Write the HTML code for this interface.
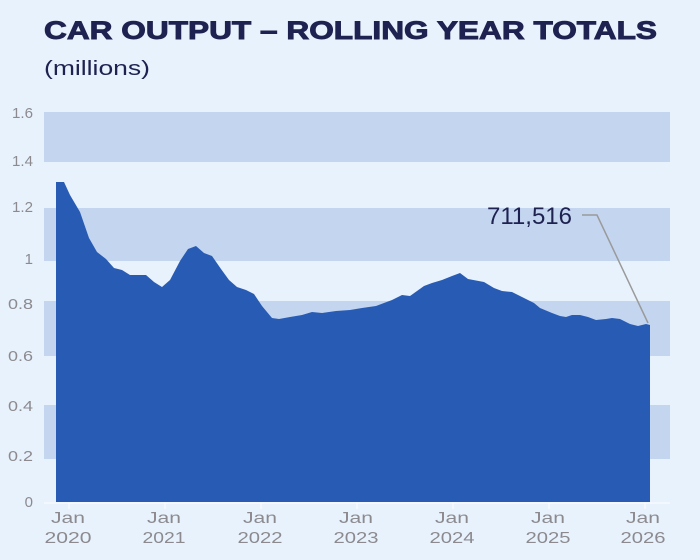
<!DOCTYPE html>
<html><head><meta charset="utf-8"><style>
html,body{margin:0;padding:0;background:#e8f2fc;}
svg{display:block;font-family:"Liberation Sans",sans-serif;}
</style></head><body>
<svg width="700" height="560" viewBox="0 0 700 560" xmlns="http://www.w3.org/2000/svg">
<rect width="700" height="560" fill="#e8f2fc"/>
<text x="44" y="39" font-size="25" font-weight="bold" fill="#1e2251" stroke="#1e2251" stroke-width="0.9" textLength="613" lengthAdjust="spacingAndGlyphs">CAR OUTPUT – ROLLING YEAR TOTALS</text>
<text x="44" y="75" font-size="20" fill="#1e2251" textLength="106" lengthAdjust="spacingAndGlyphs">(millions)</text>
<g fill="#c3d5ef">
<rect x="44" y="112" width="626" height="50"/>
<rect x="44" y="208" width="626" height="53"/>
<rect x="44" y="301" width="626" height="55"/>
<rect x="44" y="405" width="626" height="54"/>
</g>
<line x1="44" y1="503" x2="670" y2="503" stroke="#ffffff" stroke-width="1"/>
<g fill="#8c8a8f" font-size="15" text-anchor="end">
<text x="33" y="118" textLength="21" lengthAdjust="spacingAndGlyphs">1.6</text>
<text x="33" y="166" textLength="21" lengthAdjust="spacingAndGlyphs">1.4</text>
<text x="33" y="212" textLength="21" lengthAdjust="spacingAndGlyphs">1.2</text>
<text x="33" y="264">1</text>
<text x="33" y="309" textLength="25" lengthAdjust="spacingAndGlyphs">0.8</text>
<text x="33" y="361" textLength="25" lengthAdjust="spacingAndGlyphs">0.6</text>
<text x="33" y="411" textLength="25" lengthAdjust="spacingAndGlyphs">0.4</text>
<text x="33" y="461" textLength="25" lengthAdjust="spacingAndGlyphs">0.2</text>
<text x="33" y="507">0</text>
</g>
<polygon fill="#285bb4" points="56,502 56,182 64,182 70,195 80,212 89,238 97,252 106,259 114,268 122,270 130,275 146,275 154,282 162,287 170,280 180,261 188,249 196,246 204,253 212,256 221,269 229,280 237,287 246,290 254,294 262,306 272,318 279,319 290,317 302,315 312,312 322,313 336,311 350,310 362,308 376,306 392,300 402,295 410,296 424,286 432,283 442,280 452,276 460,273 468,279 484,282 494,288 502,291 512,292 524,298 534,303 540,308 552,313 560,316 566,317 572,315 580,315 588,317 596,320 606,319 612,318 620,319 630,324 638,326 646,324 650,325 650,502"/>
<g stroke="#ffffff" stroke-width="1">
<line x1="69" y1="503" x2="69" y2="509"/><line x1="165" y1="503" x2="165" y2="509"/>
<line x1="261" y1="503" x2="261" y2="509"/><line x1="357" y1="503" x2="357" y2="509"/>
<line x1="453" y1="503" x2="453" y2="509"/><line x1="549" y1="503" x2="549" y2="509"/>
<line x1="645" y1="503" x2="645" y2="509"/>
</g>
<g fill="#8c8a8f" font-size="16" text-anchor="middle" lengthAdjust="spacingAndGlyphs">
<text x="68" y="523" textLength="34" lengthAdjust="spacingAndGlyphs">Jan</text><text x="68" y="543" textLength="47" lengthAdjust="spacingAndGlyphs">2020</text>
<text x="164" y="523" textLength="34" lengthAdjust="spacingAndGlyphs">Jan</text><text x="164" y="543" textLength="43" lengthAdjust="spacingAndGlyphs">2021</text>
<text x="260" y="523" textLength="34" lengthAdjust="spacingAndGlyphs">Jan</text><text x="260" y="543" textLength="45" lengthAdjust="spacingAndGlyphs">2022</text>
<text x="356" y="523" textLength="34" lengthAdjust="spacingAndGlyphs">Jan</text><text x="356" y="543" textLength="45" lengthAdjust="spacingAndGlyphs">2023</text>
<text x="452" y="523" textLength="34" lengthAdjust="spacingAndGlyphs">Jan</text><text x="452" y="543" textLength="45" lengthAdjust="spacingAndGlyphs">2024</text>
<text x="548" y="523" textLength="34" lengthAdjust="spacingAndGlyphs">Jan</text><text x="548" y="543" textLength="45" lengthAdjust="spacingAndGlyphs">2025</text>
<text x="643" y="523" textLength="34" lengthAdjust="spacingAndGlyphs">Jan</text><text x="643" y="543" textLength="45" lengthAdjust="spacingAndGlyphs">2026</text>
</g>
<polyline points="582,215 597,215 648,323" fill="none" stroke="#9a9a9a" stroke-width="1.5"/>
<text x="572" y="224" font-size="24" fill="#1e2251" text-anchor="end" textLength="85" lengthAdjust="spacingAndGlyphs">711,516</text>
</svg>
</body></html>
